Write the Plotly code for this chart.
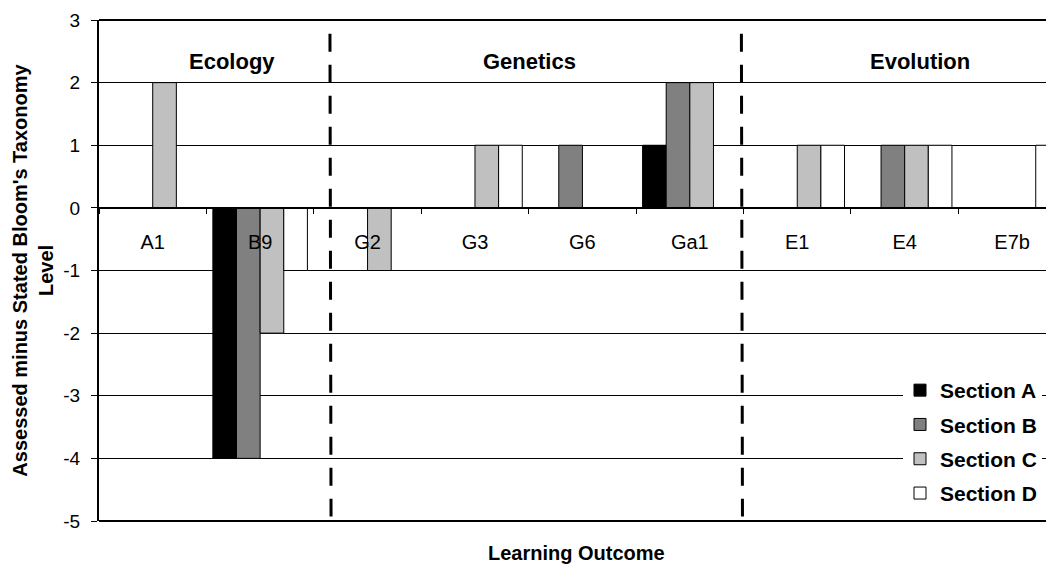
import plotly.graph_objects as go

categories = ["A1", "B9", "G2", "G3", "G6", "Ga1", "E1", "E4", "E7b"]
section_a = [0, -4, 0, 0, 0, 1, 0, 0, 0]
section_b = [0, -4, 0, 0, 1, 2, 0, 1, 0]
section_c = [2, -2, -1, 1, 0, 2, 1, 1, 0]
section_d = [0, -1, 0, 1, 0, 0, 1, 1, 1]
series_names = ["Section A", "Section B", "Section C", "Section D"]
series_colors = ["#000000", "#808080", "#C0C0C0", "#FFFFFF"]
group_labels = ["Ecology", "Genetics", "Evolution"]
group_label_x = [0.74, 3.51, 7.14]
divider_x = [1.65, 5.48]
y_tick_vals = [3, 2, 1, 0, -1, -2, -3, -4, -5]
y_tick_labels = ["3", "2", "1", "0", "-1", "-2", "-3", "-4", "-5"]

FONT = "Liberation Sans, Arial, sans-serif"

# page body has an 8px margin, so the figure is sized to fill the rest of the window
W, H = 1046, 557
ML, MT, MB, MR = 91, 12, 44, 0
PW = W - ML - MR
PH = H - MT - MB

fig = go.Figure()
for name, vals, col in zip(series_names, [section_a, section_b, section_c, section_d], series_colors):
    fig.add_trace(go.Bar(
        x=categories, y=vals, name=name, legendgroup=name,
        marker=dict(color=col, line=dict(color="#000000", width=1)),
    ))

for lbl, gx in zip(group_labels, group_label_x):
    fig.add_annotation(x=gx, y=2.33, xref="x", yref="y", text="<b>%s</b>" % lbl,
                       showarrow=False, font=dict(family=FONT, size=22, color="#000"))

for dx in divider_x:
    fig.add_shape(type="line", xref="x", yref="y", x0=dx, x1=dx + 0.01, y0=2.78, y1=-4.93,
                  line=dict(color="#000", width=3, dash="18px,13px"), layer="above")

# white area behind legend (hides gridlines there)
fig.add_shape(type="rect", xref="paper", yref="y", x0=(895 - ML) / PW, x1=(1034 - ML) / PW,
              y0=-2.7, y1=-4.85, line=dict(width=0), fillcolor="white", layer="above")

# top and bottom frame lines
fig.add_shape(type="line", xref="paper", yref="paper", x0=0, x1=1, y0=1, y1=1,
              line=dict(color="#000", width=2), layer="below")
fig.add_shape(type="line", xref="paper", yref="paper", x0=0, x1=1, y0=0, y1=0,
              line=dict(color="#000", width=2), layer="below")

fig.add_annotation(x=0.5, y=-32 / PH, xref="paper", yref="paper", text="<b>Learning Outcome</b>",
                   showarrow=False, yanchor="middle", font=dict(family=FONT, size=20, color="#000"))

fig.update_layout(
    width=W, height=H,
    margin=dict(l=ML, r=MR, t=MT, b=MB, autoexpand=False),
    paper_bgcolor="white", plot_bgcolor="white",
    barmode="group", bargap=0.12, bargroupgap=0,
    font=dict(family=FONT, size=19, color="#000"),
    showlegend=True,
    legend=dict(x=(892 - ML) / PW, y=(MT + PH - 362) / PH, xanchor="left", yanchor="top",
                bgcolor="rgba(0,0,0,0)", borderwidth=0,
                font=dict(family=FONT, size=21, color="#000", weight="bold"),
                tracegroupgap=4, itemwidth=30),
    xaxis=dict(type="category", categoryorder="array", categoryarray=categories,
               range=[-0.5, 8.39], tickson="boundaries", ticks="outside", ticklen=5,
               tickcolor="#000", anchor="free", position=0.625, automargin=False,
               showline=True, linecolor="#000", linewidth=2, showgrid=False,
               ticklabelstandoff=16, tickfont=dict(family=FONT, size=20, color="#000")),
    yaxis=dict(range=[-5, 3], tickvals=y_tick_vals, ticktext=y_tick_labels,
               showgrid=True, gridcolor="#000", gridwidth=1, automargin=False,
               showline=True, linecolor="#000", linewidth=2, ticks="outside", ticklen=6,
               tickcolor="#000", zeroline=False, ticklabelstandoff=7,
               tickfont=dict(family=FONT, size=19, color="#000"),
               title=dict(text="<b>Assessed minus Stated Bloom's Taxonomy<br>Level</b>",
                          font=dict(family=FONT, size=20, color="#000"), standoff=4)),
)

fig.write_html("out.html")
